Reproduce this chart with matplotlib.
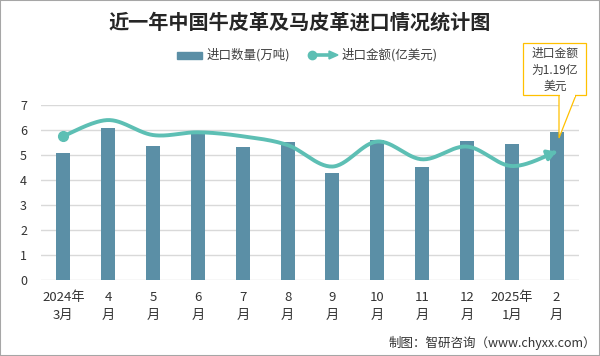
import numpy as np
import matplotlib
matplotlib.use("Agg")
import matplotlib.pyplot as plt
from matplotlib.patches import Polygon, Rectangle
from matplotlib.lines import Line2D

plt.rcParams['font.family'] = ['Noto Sans CJK SC', 'DejaVu Sans']

months = ["2024年\n3月", "4\n月", "5\n月", "6\n月", "7\n月", "8\n月", "9\n月",
          "10\n月", "11\n月", "12\n月", "2025年\n1月", "2\n月"]
qty = [5.10, 6.09, 5.37, 5.96, 5.33, 5.53, 4.29, 5.61, 4.53, 5.57, 5.45, 5.93]
amount = [5.77, 6.41, 5.81, 5.92, 5.76, 5.41, 4.55, 5.55, 4.84, 5.35, 4.57, 5.15]

BAR_C = "#5B8FA6"
LINE_C = "#5DBFB4"
W, H = 600, 356


def catmull(x, y, n=30):
    # smooth curve through the points, like Excel's "smoothed line"
    x = np.asarray(x, float)
    y = np.asarray(y, float)
    px = np.r_[x[0], x, x[-1]]
    py = np.r_[y[0], y, y[-1]]
    xs, ys = [], []
    t = np.linspace(0, 1, n, endpoint=False)
    for i in range(1, len(px) - 2):
        for p, out in ((px, xs), (py, ys)):
            p0, p1, p2, p3 = p[i - 1], p[i], p[i + 1], p[i + 2]
            out.extend(0.5 * (2 * p1 + (-p0 + p2) * t
                              + (2 * p0 - 5 * p1 + 4 * p2 - p3) * t ** 2
                              + (-p0 + 3 * p1 - 3 * p2 + p3) * t ** 3))
    xs.append(x[-1])
    ys.append(y[-1])
    return np.array(xs), np.array(ys)


fig = plt.figure(figsize=(6, 3.56), dpi=100)
ax = fig.add_axes([41 / W, 1 - 280.3 / H, 538 / W, 175 / H])

xs = np.arange(len(months))
ax.bar(xs, qty, width=0.31, color=BAR_C, zorder=2)

sx, sy = catmull(xs, amount)
ax.plot(sx[:-3], sy[:-3], color=LINE_C, lw=2.8, zorder=3, clip_on=False,
        solid_capstyle='butt')
ax.plot(xs[0], amount[0], 'o', color=LINE_C, ms=7, zorder=4, clip_on=False)
ax.annotate("", xy=(sx[-1], sy[-1]), xytext=(sx[-4], sy[-4]),
            arrowprops=dict(arrowstyle="-|>,head_length=0.5,head_width=0.3",
                            color=LINE_C, lw=2.8, shrinkA=0, shrinkB=0),
            zorder=4, annotation_clip=False)

ax.set_xlim(-0.5, len(months) - 0.5)
ax.set_ylim(0, 7)
ax.set_yticks(range(8))
ax.set_xticks(xs)
ax.set_xticklabels(months, fontsize=9.5, color="#333333", linespacing=1.45)
ax.tick_params(axis='y', labelsize=9, colors="#333333", length=0, pad=10)
ax.tick_params(axis='x', length=0, pad=8)
ax.grid(axis='y', color="#D9D9D9", lw=1, zorder=0)
for s in ax.spines.values():
    s.set_visible(False)

fig.text(0.5, 1 - 22 / H, "近一年中国牛皮革及马皮革进口情况统计图", ha='center', va='center',
         fontsize=14.5, fontweight='bold', color="#262626")

# legend drawn by hand so the line symbol gets the dot + arrow
fig.patches.append(Rectangle((177 / W, 1 - 58.5 / H), 25 / W, 7 / H,
                             transform=fig.transFigure, color=BAR_C))
fig.text(207 / W, 1 - 55 / H, "进口数量(万吨)", va='center', fontsize=9, color="#404040")
fig.lines.append(Line2D([312 / W, 330 / W], [1 - 55 / H] * 2, transform=fig.transFigure,
                        color=LINE_C, lw=2.6))
fig.lines.append(Line2D([312 / W], [1 - 55 / H], transform=fig.transFigure, marker='o',
                        ms=6, color=LINE_C))
fig.patches.append(Polygon([[329 / W, 1 - 51 / H], [338 / W, 1 - 55 / H], [329 / W, 1 - 59 / H]],
                           closed=True, transform=fig.transFigure, color=LINE_C))
fig.text(342 / W, 1 - 55 / H, "进口金额(亿美元)", va='center', fontsize=9, color="#404040")

# callout box
fig.patches.append(Polygon([[559 / W, 1 - 95 / H], [576 / W, 1 - 95 / H], [559 / W, 1 - 138 / H]],
                           closed=True, transform=fig.transFigure, facecolor='white',
                           edgecolor="#FFC000", lw=0.9, zorder=5))
fig.patches.append(Rectangle((523 / W, 1 - 95 / H), 63 / W, 52 / H, transform=fig.transFigure,
                             facecolor='white', edgecolor="#FFC000", lw=0.9, zorder=6))
fig.patches.append(Rectangle((560 / W, 1 - 96.5 / H), 15 / W, 3 / H, transform=fig.transFigure,
                             facecolor='white', edgecolor='none', zorder=7))
fig.text(555 / W, 1 - 70 / H, "进口金额\n为1.19亿\n美元", ha='center', va='center',
         fontsize=8.5, color="#404040", linespacing=1.35, zorder=8)

# source line
fig.text(596 / W, 1 - 343 / H, "制图：智研咨询（www.chyxx.com）", ha='right', va='center',
         fontsize=9, color="#333333")

fig.patches.append(Rectangle((0, 0), 1, 1, transform=fig.transFigure, fill=False,
                             edgecolor="#A6A6A6", lw=1.5))

fig.savefig("out.png", dpi=100)
